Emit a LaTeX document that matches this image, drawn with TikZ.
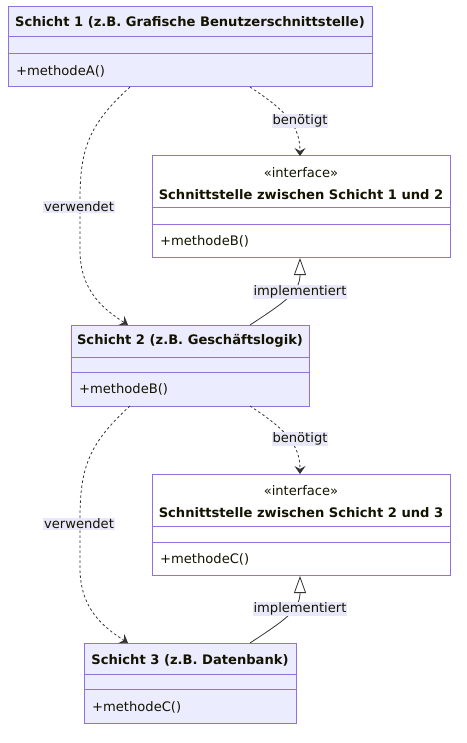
\documentclass[tikz,border=0pt]{standalone}
\usepackage{fontspec}
\setmainfont{DejaVu Sans}
\usetikzlibrary{arrows.meta}
\definecolor{cborder}{HTML}{9370DB}
\definecolor{cfill}{HTML}{ECECFF}
\definecolor{cline}{HTML}{333333}
\definecolor{ctext}{HTML}{131300}
\definecolor{clabel}{HTML}{E8E8FA}
\tikzset{
  box/.style={draw=cborder, line width=1pt},
  lavbox/.style={box, fill=cfill},
  whitebox/.style={box, fill=white},
  divider/.style={draw=cborder, line width=1pt},
  hdr/.style={font=\fontsize{13.1}{15}\selectfont\bfseries, text=ctext, inner sep=0pt},
  stereo/.style={font=\fontsize{13.1}{15}\selectfont, text=ctext, inner sep=0pt},
  meth/.style={font=\fontsize{13.1}{15}\selectfont, text=ctext, anchor=west, inner sep=0pt},
  elabel/.style={fill=clabel, font=\fontsize{13.1}{15}\selectfont, text=ctext, inner sep=1pt},
  dep/.style={draw=cline, dashed, dash pattern=on 2.5pt off 2.5pt, line width=0.8pt, -{Stealth[length=8pt,width=11pt,inset=3pt]}},
  impl/.style={draw=cline, line width=0.8pt, -{Triangle[open,length=17pt,width=12pt,fill=white]}},
}
\begin{document}
\begin{tikzpicture}[x=1pt,y=-1pt]
\useasboundingbox (0,0) rectangle (466,743);
% Box 1
\draw[lavbox] (8,7) rectangle (372,87);
\draw[divider] (8,37) -- (372,37);
\draw[divider] (8,54) -- (372,54);
\node[hdr] (b1t) at (190,22) {Schicht 1 (z.B. Grafische Benutzerschnittstelle)};
\node[meth] (b1m) at (16,71) {+methodeA()};
\coordinate (b1a) at (130,87);
\coordinate (b1b) at (250,87);
% Interface 1
\draw[whitebox] (152,156) rectangle (450,257);
\draw[divider] (152,208) -- (450,208);
\draw[divider] (152,224) -- (450,224);
\node[stereo] (i1s) at (301,173) {«interface»};
\node[hdr] (i1t) at (301,195) {Schnittstelle zwischen Schicht 1 und 2};
\node[meth] (i1m) at (160,241) {+methodeB()};
\coordinate (i1top) at (300,156);
\coordinate (i1bot) at (300,258);
% Box 2
\draw[lavbox] (71,325) rectangle (309,406);
\draw[divider] (71,357) -- (309,357);
\draw[divider] (71,372) -- (309,372);
\node[hdr] (b2t) at (190,341) {Schicht 2 (z.B. Geschäftslogik)};
\node[meth] (b2m) at (79,389) {+methodeB()};
\coordinate (b2in) at (128,325);
\coordinate (b2out) at (250,325);
\coordinate (b2a) at (130,406);
\coordinate (b2b) at (250,406);
% Interface 2
\draw[whitebox] (152,474) rectangle (450,575);
\draw[divider] (152,526) -- (450,526);
\draw[divider] (152,542) -- (450,542);
\node[stereo] (i2s) at (301,491) {«interface»};
\node[hdr] (i2t) at (301,513) {Schnittstelle zwischen Schicht 2 und 3};
\node[meth] (i2m) at (160,559) {+methodeC()};
\coordinate (i2top) at (300,474);
\coordinate (i2bot) at (300,576);
% Box 3
\draw[lavbox] (84,643) rectangle (296,723);
\draw[divider] (84,674) -- (296,674);
\draw[divider] (84,689) -- (296,689);
\node[hdr] (b3t) at (190,660) {Schicht 3 (z.B. Datenbank)};
\node[meth] (b3m) at (92,707) {+methodeC()};
\coordinate (b3in) at (128,643);
\coordinate (b3out) at (250,643);
% Edges set 1
\draw[dep] (b1b) .. controls (285,110) and (300,125) .. (i1top);
\node[elabel] (l1) at (300,121) {benötigt};
\draw[dep] (b1a) .. controls (88,125) and (80,150) .. (80,200) -- (80,250) .. controls (80,292) and (105,310) .. (b2in);
\node[elabel] (l2) at (79,207) {verwendet};
\draw[impl] (b2out) .. controls (285,302) and (300,292) .. (i1bot);
\node[elabel] (l3) at (300,292) {implementiert};
% Edges set 2
\draw[dep] (b2b) .. controls (285,429) and (300,444) .. (i2top);
\node[elabel] (l4) at (300,439) {benötigt};
\draw[dep] (b2a) .. controls (88,444) and (80,469) .. (80,519) -- (80,568) .. controls (80,610) and (105,628) .. (b3in);
\node[elabel] (l5) at (79,524) {verwendet};
\draw[impl] (b3out) .. controls (285,620) and (300,610) .. (i2bot);
\node[elabel] (l6) at (300,609) {implementiert};
\end{tikzpicture}
\end{document}
